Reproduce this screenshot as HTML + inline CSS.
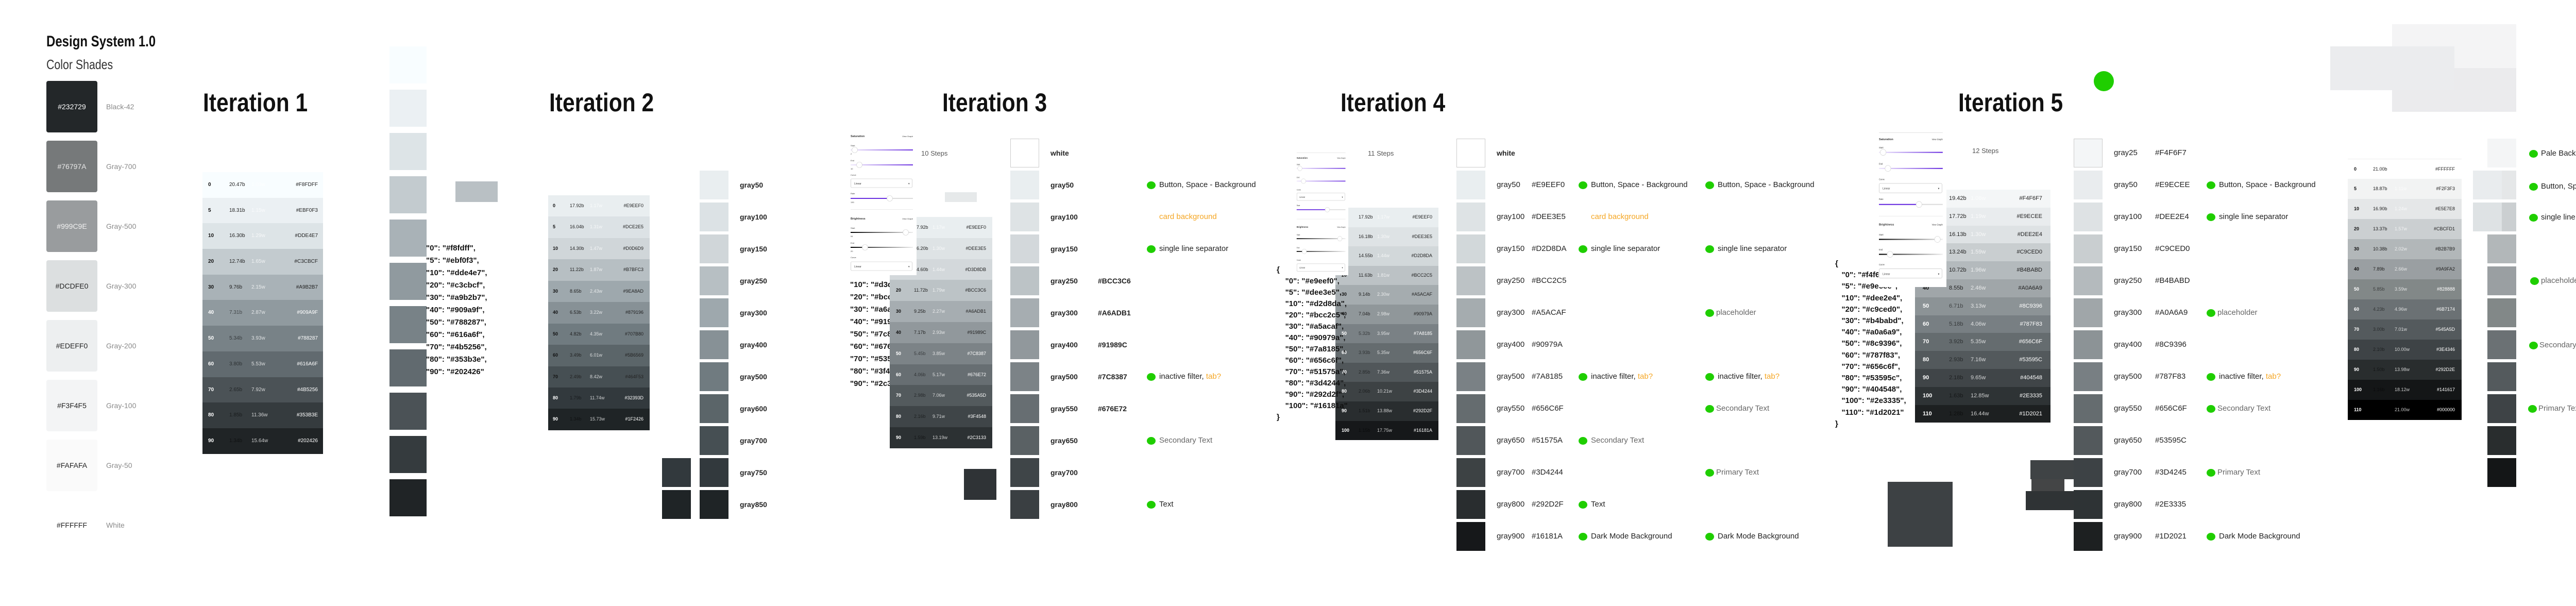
<!DOCTYPE html>
<html><head><meta charset="utf-8">
<style>
*{margin:0;padding:0;box-sizing:border-box}
body{width:5224px;height:1176px;background:#fff;position:relative;overflow:hidden;font-family:"Liberation Sans",Arial,sans-serif;color:#222}
.a{position:absolute}
.L{position:absolute;line-height:20px;white-space:nowrap;font-size:15px}
.ttl{position:absolute;top:174px;font-size:50px;line-height:50px;font-weight:bold;transform:scaleX(.85);transform-origin:0 0;white-space:nowrap;color:#111}
.sw{position:absolute;width:99px;height:100px;border-radius:4px;font-size:14px;line-height:100px;text-align:center}
.nm{position:absolute;left:206px;font-size:14px;color:#8a8a8a;line-height:20px}
.tb{position:absolute;font-size:10px}
.tb div{position:relative}
.tb i,.tb b,.tb u,.tb s{position:absolute;top:0;font-style:normal;text-decoration:none;white-space:nowrap}
.tb i{font-weight:bold;color:#111}
.tb b{font-weight:normal;color:#222}
.tb u{color:rgba(255,255,255,.75)}
.tb s{color:#222}
.tb .d i,.tb .d s{color:#fff}
.tb .d b{color:rgba(0,0,0,.55)}
#t1{left:393px;top:334px;width:234px}
#t1 div{height:49.7px;line-height:49.7px}
#t1 i{left:11px}#t1 b{left:52px}#t1 u{left:95px}#t1 s{right:10px}
#t2{left:1064px;top:379px;width:197px;font-size:9px}
#t2 div{height:41.45px;line-height:41.45px}
#t2 i{left:9px}#t2 b{left:42px}#t2 u{left:81px}#t2 s{right:12px}
#t3{left:1727px;top:421px;width:199px;font-size:9px}
#t3 div{height:40.8px;line-height:40.8px}
#t3 i{left:12px}#t3 b{left:47px}#t3 u{left:83px}#t3 s{right:12px}
#t4{left:2592px;top:403px;width:200px;font-size:9px}
#t4 div{height:37.6px;line-height:37.6px}
#t4 i{left:12px}#t4 b{left:45px}#t4 u{left:81px}#t4 s{right:12px}
#t5{left:3717px;top:368px;width:263px;font-size:11px}
#t5 div{height:34.8px;line-height:34.8px}
#t5 i{left:15px}#t5 b{left:66px}#t5 u{left:108px}#t5 s{right:16px}
#t6{left:4557px;top:308px;width:221px;font-size:9px}
#t6 div{height:39px;line-height:39px}
#t6 i{left:12px}#t6 b{left:49px}#t6 u{left:91px}#t6 s{right:13px}
.js{position:absolute;font-size:15px;font-weight:bold;white-space:pre;color:#111}
.c56{position:absolute;width:56px;height:56px}
.g{display:inline-block;width:17px;height:15px;border-radius:50%;background:#1fce00;vertical-align:-2px}
.dot{position:absolute;width:17px;height:15px;border-radius:50%;background:#1fce00}
.gr{color:#666}
.or{color:#f5a623}
.lb{font-weight:bold;font-size:14px}
.st{position:absolute;font-size:13px;color:#555;line-height:20px}
</style></head><body>

<!-- Design System -->
<div class="a" style="left:90px;top:66px;font-size:30px;font-weight:bold;line-height:30px;transform:scaleX(.8);transform-origin:0 0;white-space:nowrap;color:#111">Design System 1.0</div>
<div class="a" style="left:90px;top:111px;font-size:26px;line-height:28px;transform:scaleX(.82);transform-origin:0 0;white-space:nowrap;color:#333">Color Shades</div>
<div class="sw" style="left:90px;top:157px;background:#232729;color:#fff">#232729</div><div class="nm" style="top:197px">Black-42</div>
<div class="sw" style="left:90px;top:273px;background:#76797A;color:#e8e8e8">#76797A</div><div class="nm" style="top:313px">Gray-700</div>
<div class="sw" style="left:90px;top:389px;background:#999C9E;color:#f2f2f2">#999C9E</div><div class="nm" style="top:429px">Gray-500</div>
<div class="sw" style="left:90px;top:505px;background:#DCDFE0;color:#222">#DCDFE0</div><div class="nm" style="top:545px">Gray-300</div>
<div class="sw" style="left:90px;top:621px;background:#EDEFF0;color:#222">#EDEFF0</div><div class="nm" style="top:661px">Gray-200</div>
<div class="sw" style="left:90px;top:737px;background:#F3F4F5;color:#222">#F3F4F5</div><div class="nm" style="top:777px">Gray-100</div>
<div class="sw" style="left:90px;top:853px;background:#FAFAFA;color:#222">#FAFAFA</div><div class="nm" style="top:893px">Gray-50</div>
<div class="sw" style="left:90px;top:969px;background:#FFFFFF;color:#222">#FFFFFF</div><div class="nm" style="top:1009px">White</div>

<!-- Iteration 1 -->
<div class="ttl" style="left:394px">Iteration 1</div>
<div class="tb" id="t1">
<div style="background:#F8FDFF"><i>0</i><b>20.47b</b><u>1.03w</u><s>#F8FDFF</s></div>
<div style="background:#EBF0F3"><i>5</i><b>18.31b</b><u>1.15w</u><s>#EBF0F3</s></div>
<div style="background:#DDE4E7"><i>10</i><b>16.30b</b><u>1.29w</u><s>#DDE4E7</s></div>
<div style="background:#C3CBCF"><i>20</i><b>12.74b</b><u>1.65w</u><s>#C3CBCF</s></div>
<div style="background:#A9B2B7"><i>30</i><b>9.76b</b><u>2.15w</u><s>#A9B2B7</s></div>
<div style="background:#909A9F" class="d"><i>40</i><b>7.31b</b><u>2.87w</u><s>#909A9F</s></div>
<div style="background:#788287" class="d"><i>50</i><b>5.34b</b><u>3.93w</u><s>#788287</s></div>
<div style="background:#616A6F" class="d"><i>60</i><b>3.80b</b><u>5.53w</u><s>#616A6F</s></div>
<div style="background:#4B5256" class="d"><i>70</i><b>2.65b</b><u>7.92w</u><s>#4B5256</s></div>
<div style="background:#353B3E" class="d"><i>80</i><b>1.85b</b><u>11.36w</u><s>#353B3E</s></div>
<div style="background:#202426" class="d"><i>90</i><b>1.34b</b><u>15.64w</u><s>#202426</s></div>
</div>
<div class="js" style="left:827px;top:470px;line-height:24px">"0": "#f8fdff",
"5": "#ebf0f3",
"10": "#dde4e7",
"20": "#c3cbcf",
"30": "#a9b2b7",
"40": "#909a9f",
"50": "#788287",
"60": "#616a6f",
"70": "#4b5256",
"80": "#353b3e",
"90": "#202426"</div>
<div class="a" style="left:756px;top:90px;width:72px;height:72px;background:#F8FDFF"></div>
<div class="a" style="left:756px;top:174px;width:72px;height:72px;background:#EBF0F3"></div>
<div class="a" style="left:756px;top:258px;width:72px;height:72px;background:#DDE4E7"></div>
<div class="a" style="left:756px;top:342px;width:72px;height:72px;background:#C3CBCF"></div>
<div class="a" style="left:756px;top:426px;width:72px;height:72px;background:#A9B2B7"></div>
<div class="a" style="left:756px;top:510px;width:72px;height:72px;background:#909A9F"></div>
<div class="a" style="left:756px;top:594px;width:72px;height:72px;background:#788287"></div>
<div class="a" style="left:756px;top:678px;width:72px;height:72px;background:#616A6F"></div>
<div class="a" style="left:756px;top:762px;width:72px;height:72px;background:#4B5256"></div>
<div class="a" style="left:756px;top:846px;width:72px;height:72px;background:#353B3E"></div>
<div class="a" style="left:756px;top:930px;width:72px;height:72px;background:#202426"></div>
<div class="a" style="left:884px;top:352px;width:82px;height:40px;background:#B9C0C4"></div>

<!-- Iteration 2 -->
<div class="ttl" style="left:1066px">Iteration 2</div>
<div class="tb" id="t2">
<div style="background:#E9EEF0"><i>0</i><b>17.92b</b><u>1.17w</u><s>#E9EEF0</s></div>
<div style="background:#DCE2E5"><i>5</i><b>16.04b</b><u>1.31w</u><s>#DCE2E5</s></div>
<div style="background:#D0D6D9"><i>10</i><b>14.30b</b><u>1.47w</u><s>#D0D6D9</s></div>
<div style="background:#B7BFC3"><i>20</i><b>11.22b</b><u>1.87w</u><s>#B7BFC3</s></div>
<div style="background:#9EA8AD"><i>30</i><b>8.65b</b><u>2.43w</u><s>#9EA8AD</s></div>
<div style="background:#879196"><i>40</i><b>6.53b</b><u>3.22w</u><s>#879196</s></div>
<div style="background:#707B80"><i>50</i><b>4.82b</b><u>4.35w</u><s>#707B80</s></div>
<div style="background:#5B6569"><i>60</i><b>3.49b</b><u>6.01w</u><s>#5B6569</s></div>
<div style="background:#464F53"><i>70</i><b>2.49b</b><u>8.42w</u><s>#464F53</s></div>
<div style="background:#32393D" class="d"><i>80</i><b>1.79b</b><u>11.74w</u><s>#32393D</s></div>
<div style="background:#1F2426" class="d"><i>90</i><b>1.34b</b><u>15.73w</u><s>#1F2426</s></div>
</div>
<div class="c56" style="left:1358px;top:331px;background:#E9EEF0"></div><div class="L lb" style="left:1436px;top:349px">gray50</div>
<div class="c56" style="left:1358px;top:393px;background:#DCE2E5"></div><div class="L lb" style="left:1436px;top:411px">gray100</div>
<div class="c56" style="left:1358px;top:455px;background:#D0D6D9"></div><div class="L lb" style="left:1436px;top:473px">gray150</div>
<div class="c56" style="left:1358px;top:517px;background:#B7BFC3"></div><div class="L lb" style="left:1436px;top:535px">gray250</div>
<div class="c56" style="left:1358px;top:579px;background:#9EA8AD"></div><div class="L lb" style="left:1436px;top:597px">gray300</div>
<div class="c56" style="left:1358px;top:641px;background:#879196"></div><div class="L lb" style="left:1436px;top:659px">gray400</div>
<div class="c56" style="left:1358px;top:703px;background:#707B80"></div><div class="L lb" style="left:1436px;top:721px">gray500</div>
<div class="c56" style="left:1358px;top:765px;background:#5B6569"></div><div class="L lb" style="left:1436px;top:783px">gray600</div>
<div class="c56" style="left:1358px;top:827px;background:#464F53"></div><div class="L lb" style="left:1436px;top:845px">gray700</div>
<div class="c56" style="left:1358px;top:889px;background:#32393D"></div><div class="L lb" style="left:1436px;top:907px">gray750</div>
<div class="c56" style="left:1358px;top:951px;background:#1F2426"></div><div class="L lb" style="left:1436px;top:969px">gray850</div>
<div class="c56" style="left:1285px;top:889px;background:#32393D"></div>
<div class="c56" style="left:1285px;top:951px;background:#1F2426"></div>

<!-- Iteration 3 -->
<div class="ttl" style="left:1829px">Iteration 3</div>
<div class="js" style="left:1650px;top:493px;line-height:24px">"0": "#e9eef0",
"5": "#dee3e5",
"10": "#d3d8db",
"20": "#bcc3c6",
"30": "#a6adb1",
"40": "#91989c",
"50": "#7c8387",
"60": "#676e72",
"70": "#535a5d",
"80": "#3f4548",
"90": "#2c3133"</div>
<div class="tb" id="t3">
<div style="background:#E9EEF0"><i>0</i><b>17.92b</b><u>1.17w</u><s>#E9EEF0</s></div>
<div style="background:#DEE3E5"><i>5</i><b>16.20b</b><u>1.30w</u><s>#DEE3E5</s></div>
<div style="background:#D3D8DB"><i>10</i><b>14.60b</b><u>1.44w</u><s>#D3D8DB</s></div>
<div style="background:#BCC3C6"><i>20</i><b>11.72b</b><u>1.79w</u><s>#BCC3C6</s></div>
<div style="background:#A6ADB1"><i>30</i><b>9.25b</b><u>2.27w</u><s>#A6ADB1</s></div>
<div style="background:#91989C"><i>40</i><b>7.17b</b><u>2.93w</u><s>#91989C</s></div>
<div style="background:#7C8387" class="d"><i>50</i><b>5.45b</b><u>3.85w</u><s>#7C8387</s></div>
<div style="background:#676E72" class="d"><i>60</i><b>4.06b</b><u>5.17w</u><s>#676E72</s></div>
<div style="background:#535A5D" class="d"><i>70</i><b>2.98b</b><u>7.06w</u><s>#535A5D</s></div>
<div style="background:#3F4548" class="d"><i>80</i><b>2.16b</b><u>9.71w</u><s>#3F4548</s></div>
<div style="background:#2C3133" class="d"><i>90</i><b>1.59b</b><u>13.19w</u><s>#2C3133</s></div>
</div>
<div class="a" style="left:1987px;top:423px;font-size:13px;font-weight:bold;color:#e01010;line-height:16px">it3</div>
<svg class="a" style="left:1650px;top:255px" width="129" height="279" viewBox="0 0 129 279" preserveAspectRatio="none">
<defs><linearGradient id="pu" x1="0" x2="1"><stop offset="0" stop-color="#efe8fb"/><stop offset="1" stop-color="#6a2fe0"/></linearGradient>
<linearGradient id="bk" x1="0" x2="1"><stop offset="0" stop-color="#000"/><stop offset="1" stop-color="#eee"/></linearGradient></defs>
<rect width="129" height="279" fill="#fff"/>
<g font-family="Liberation Sans,sans-serif" fill="#333">
<text x="1" y="11" font-size="5.5" font-weight="bold">Saturation</text><text x="122" y="11" font-size="4" text-anchor="end">View Graph</text>
<text x="1" y="29" font-size="4">Start</text><rect x="1" y="35" width="121" height="2" fill="url(#pu)"/><circle cx="9" cy="36" r="5.5" fill="#fff" stroke="#ccc" stroke-width=".6"/><text x="1" y="45" font-size="4">2</text>
<text x="1" y="58" font-size="4">End</text><rect x="1" y="64" width="121" height="2" fill="url(#pu)"/><circle cx="18" cy="65" r="5.5" fill="#fff" stroke="#ccc" stroke-width=".6"/><text x="1" y="74" font-size="4">10</text>
<text x="1" y="86" font-size="4">Curve</text><rect x="1.5" y="92" width="119" height="17" rx="2" fill="#fff" stroke="#bbb" stroke-width=".6"/><text x="8" y="103" font-size="5">Linear</text><text x="113" y="103" font-size="5">▾</text>
<text x="1" y="122" font-size="4">Rate</text><rect x="1" y="129" width="76" height="2" fill="#6a2fe0"/><rect x="77" y="129" width="45" height="2" fill="#ddd"/><circle cx="77" cy="130" r="5.5" fill="#fff" stroke="#ccc" stroke-width=".6"/><text x="1" y="139" font-size="4">130</text>
<rect x="1" y="151" width="121" height=".6" fill="#ddd"/>
<text x="1" y="171" font-size="5.5" font-weight="bold">Brightness</text><text x="122" y="171" font-size="4" text-anchor="end">View Graph</text>
<text x="1" y="189" font-size="4">Start</text><rect x="1" y="195" width="121" height="2" fill="url(#bk)"/><circle cx="108" cy="196" r="5.5" fill="#fff" stroke="#ccc" stroke-width=".6"/><text x="1" y="205" font-size="4">94</text>
<text x="1" y="218" font-size="4">End</text><rect x="1" y="224" width="121" height="2" fill="url(#bk)"/><circle cx="29" cy="225" r="5.5" fill="#fff" stroke="#ccc" stroke-width=".6"/><text x="1" y="234" font-size="4">20</text>
<text x="1" y="246" font-size="4">Curve</text><rect x="1.5" y="253" width="119" height="17" rx="2" fill="#fff" stroke="#bbb" stroke-width=".6"/><text x="8" y="264" font-size="5">Linear</text><text x="113" y="264" font-size="5">▾</text>
</g></svg>
<div class="st" style="left:1788px;top:288px">10 Steps</div>
<div class="a" style="left:1834px;top:373px;width:62px;height:19px;background:#E6E9EA"></div>
<div class="a" style="left:1871px;top:910px;width:63px;height:60px;background:#2F3336"></div>

<div class="c56" style="left:1961px;top:269px;background:#fff;border:1px solid #ccc"></div><div class="L lb" style="left:2039px;top:287px">white</div>
<div class="c56" style="left:1961px;top:331px;background:#E9EEF0"></div><div class="L lb" style="left:2039px;top:349px">gray50</div>
<div class="c56" style="left:1961px;top:393px;background:#DEE3E5"></div><div class="L lb" style="left:2039px;top:411px">gray100</div>
<div class="c56" style="left:1961px;top:455px;background:#D3D8DB"></div><div class="L lb" style="left:2039px;top:473px">gray150</div>
<div class="c56" style="left:1961px;top:517px;background:#BCC3C6"></div><div class="L lb" style="left:2039px;top:535px">gray250</div>
<div class="c56" style="left:1961px;top:579px;background:#A6ADB1"></div><div class="L lb" style="left:2039px;top:597px">gray300</div>
<div class="c56" style="left:1961px;top:641px;background:#91989C"></div><div class="L lb" style="left:2039px;top:659px">gray400</div>
<div class="c56" style="left:1961px;top:703px;background:#7C8387"></div><div class="L lb" style="left:2039px;top:721px">gray500</div>
<div class="c56" style="left:1961px;top:765px;background:#676E72"></div><div class="L lb" style="left:2039px;top:783px">gray550</div>
<div class="c56" style="left:1961px;top:827px;background:#5A6164"></div><div class="L lb" style="left:2039px;top:845px">gray650</div>
<div class="c56" style="left:1961px;top:889px;background:#3F4548"></div><div class="L lb" style="left:2039px;top:907px">gray700</div>
<div class="c56" style="left:1961px;top:951px;background:#3A3F42"></div><div class="L lb" style="left:2039px;top:969px">gray800</div>
<div class="L lb" style="left:2131px;top:535px">#BCC3C6</div>
<div class="L lb" style="left:2131px;top:597px">#A6ADB1</div>
<div class="L lb" style="left:2131px;top:659px">#91989C</div>
<div class="L lb" style="left:2131px;top:721px">#7C8387</div>
<div class="L lb" style="left:2131px;top:783px">#676E72</div>
<div class="dot" style="left:2226px;top:352px"></div><div class="L" style="left:2250px;top:349px">Button, Space - Background</div>
<div class="L or" style="left:2250px;top:411px">card background</div>
<div class="dot" style="left:2226px;top:476px"></div><div class="L" style="left:2250px;top:473px">single line separator</div>
<div class="dot" style="left:2226px;top:724px"></div><div class="L" style="left:2250px;top:721px">inactive filter, <span class="or">tab?</span></div>
<div class="dot" style="left:2226px;top:848px"></div><div class="L gr" style="left:2250px;top:845px">Secondary Text</div>
<div class="dot" style="left:2226px;top:972px"></div><div class="L" style="left:2250px;top:969px">Text</div>

<!-- Iteration 4 -->
<div class="ttl" style="left:2602px">Iteration 4</div>
<div class="tb" id="t4">
<div style="background:#E9EEF0"><i>0</i><b>17.92b</b><u>1.17w</u><s>#E9EEF0</s></div>
<div style="background:#DEE3E5"><i>5</i><b>16.18b</b><u>1.30w</u><s>#DEE3E5</s></div>
<div style="background:#D2D8DA"><i>10</i><b>14.55b</b><u>1.44w</u><s>#D2D8DA</s></div>
<div style="background:#BCC2C5"><i>20</i><b>11.63b</b><u>1.81w</u><s>#BCC2C5</s></div>
<div style="background:#A5ACAF"><i>30</i><b>9.14b</b><u>2.30w</u><s>#A5ACAF</s></div>
<div style="background:#90979A"><i>40</i><b>7.04b</b><u>2.98w</u><s>#90979A</s></div>
<div style="background:#7A8185" class="d"><i>50</i><b>5.32b</b><u>3.95w</u><s>#7A8185</s></div>
<div style="background:#656C6F" class="d"><i>60</i><b>3.93b</b><u>5.35w</u><s>#656C6F</s></div>
<div style="background:#51575A" class="d"><i>70</i><b>2.85b</b><u>7.36w</u><s>#51575A</s></div>
<div style="background:#3D4244" class="d"><i>80</i><b>2.06b</b><u>10.21w</u><s>#3D4244</s></div>
<div style="background:#292D2F" class="d"><i>90</i><b>1.51b</b><u>13.88w</u><s>#292D2F</s></div>
<div style="background:#16181A" class="d"><i>100</i><b>1.15b</b><u>17.75w</u><s>#16181A</s></div>
</div>
<div class="js" style="left:2478px;top:513px;line-height:22px">{
    "0": "#e9eef0",
    "5": "#dee3e5",
    "10": "#d2d8da",
    "20": "#bcc2c5",
    "30": "#a5acaf",
    "40": "#90979a",
    "50": "#7a8185",
    "60": "#656c6f",
    "70": "#51575a",
    "80": "#3d4244",
    "90": "#292d2f",
    "100": "#16181a"
}</div>
<svg class="a" style="left:2516px;top:296px" width="101" height="238" viewBox="0 0 129 279" preserveAspectRatio="none">
<rect width="129" height="279" fill="#fff"/><rect x="1" y="0" width="121" height=".8" fill="#ddd"/>
<g font-family="Liberation Sans,sans-serif" fill="#333">
<text x="1" y="14" font-size="5.5" font-weight="bold">Saturation</text><text x="122" y="14" font-size="4" text-anchor="end">View Graph</text>
<text x="1" y="29" font-size="4">Start</text><rect x="1" y="35" width="121" height="2" fill="url(#pu)"/><circle cx="9" cy="36" r="5.5" fill="#fff" stroke="#ccc" stroke-width=".6"/>
<text x="1" y="58" font-size="4">End</text><rect x="1" y="64" width="121" height="2" fill="url(#pu)"/><circle cx="18" cy="65" r="5.5" fill="#fff" stroke="#ccc" stroke-width=".6"/>
<text x="1" y="86" font-size="4">Curve</text><rect x="1.5" y="92" width="119" height="17" rx="2" fill="#fff" stroke="#bbb" stroke-width=".6"/><text x="8" y="103" font-size="5">Linear</text><text x="113" y="103" font-size="5">▾</text>
<text x="1" y="122" font-size="4">Rate</text><rect x="1" y="129" width="76" height="2" fill="#6a2fe0"/><rect x="77" y="129" width="45" height="2" fill="#ddd"/><circle cx="77" cy="130" r="5.5" fill="#fff" stroke="#ccc" stroke-width=".6"/>
<rect x="1" y="151" width="121" height=".6" fill="#ddd"/>
<text x="1" y="171" font-size="5.5" font-weight="bold">Brightness</text><text x="122" y="171" font-size="4" text-anchor="end">View Graph</text>
<text x="1" y="189" font-size="4">Start</text><rect x="1" y="195" width="121" height="2" fill="url(#bk)"/><circle cx="108" cy="196" r="5.5" fill="#fff" stroke="#ccc" stroke-width=".6"/>
<text x="1" y="218" font-size="4">End</text><rect x="1" y="224" width="121" height="2" fill="url(#bk)"/><circle cx="20" cy="225" r="5.5" fill="#fff" stroke="#ccc" stroke-width=".6"/>
<text x="1" y="246" font-size="4">Curve</text><rect x="1.5" y="253" width="119" height="17" rx="2" fill="#fff" stroke="#bbb" stroke-width=".6"/><text x="8" y="264" font-size="5">Linear</text><text x="113" y="264" font-size="5">▾</text>
</g></svg>
<div class="st" style="left:2655px;top:288px">11 Steps</div>

<div class="c56" style="left:2827px;top:269px;background:#fff;border:1px solid #ccc"></div><div class="L lb" style="left:2905px;top:287px">white</div>
<div class="c56" style="left:2827px;top:331px;background:#E9EEF0"></div><div class="L" style="left:2905px;top:349px">gray50</div><div class="L" style="left:2973px;top:349px">#E9EEF0</div>
<div class="c56" style="left:2827px;top:393px;background:#DEE3E5"></div><div class="L" style="left:2905px;top:411px">gray100</div><div class="L" style="left:2973px;top:411px">#DEE3E5</div>
<div class="c56" style="left:2827px;top:455px;background:#D2D8DA"></div><div class="L" style="left:2905px;top:473px">gray150</div><div class="L" style="left:2973px;top:473px">#D2D8DA</div>
<div class="c56" style="left:2827px;top:517px;background:#BCC2C5"></div><div class="L" style="left:2905px;top:535px">gray250</div><div class="L" style="left:2973px;top:535px">#BCC2C5</div>
<div class="c56" style="left:2827px;top:579px;background:#A5ACAF"></div><div class="L" style="left:2905px;top:597px">gray300</div><div class="L" style="left:2973px;top:597px">#A5ACAF</div>
<div class="c56" style="left:2827px;top:641px;background:#90979A"></div><div class="L" style="left:2905px;top:659px">gray400</div><div class="L" style="left:2973px;top:659px">#90979A</div>
<div class="c56" style="left:2827px;top:703px;background:#7A8185"></div><div class="L" style="left:2905px;top:721px">gray500</div><div class="L" style="left:2973px;top:721px">#7A8185</div>
<div class="c56" style="left:2827px;top:765px;background:#656C6F"></div><div class="L" style="left:2905px;top:783px">gray550</div><div class="L" style="left:2973px;top:783px">#656C6F</div>
<div class="c56" style="left:2827px;top:827px;background:#51575A"></div><div class="L" style="left:2905px;top:845px">gray650</div><div class="L" style="left:2973px;top:845px">#51575A</div>
<div class="c56" style="left:2827px;top:889px;background:#3D4244"></div><div class="L" style="left:2905px;top:907px">gray700</div><div class="L" style="left:2973px;top:907px">#3D4244</div>
<div class="c56" style="left:2827px;top:951px;background:#292D2F"></div><div class="L" style="left:2905px;top:969px">gray800</div><div class="L" style="left:2973px;top:969px">#292D2F</div>
<div class="c56" style="left:2827px;top:1013px;background:#16181A"></div><div class="L" style="left:2905px;top:1031px">gray900</div><div class="L" style="left:2973px;top:1031px">#16181A</div>
<div class="dot" style="left:3064px;top:352px"></div><div class="L" style="left:3088px;top:349px">Button, Space - Background</div>
<div class="dot" style="left:3310px;top:352px"></div><div class="L" style="left:3334px;top:349px">Button, Space - Background</div>
<div class="L or" style="left:3088px;top:411px">card background</div>
<div class="dot" style="left:3064px;top:476px"></div><div class="L" style="left:3088px;top:473px">single line separator</div>
<div class="dot" style="left:3310px;top:476px"></div><div class="L" style="left:3334px;top:473px">single line separator</div>
<div class="dot" style="left:3310px;top:600px"></div><div class="L gr" style="left:3331px;top:597px">placeholder</div>
<div class="dot" style="left:3064px;top:724px"></div><div class="L" style="left:3088px;top:721px">inactive filter, <span class="or">tab?</span></div>
<div class="dot" style="left:3310px;top:724px"></div><div class="L" style="left:3334px;top:721px">inactive filter, <span class="or">tab?</span></div>
<div class="dot" style="left:3310px;top:786px"></div><div class="L gr" style="left:3331px;top:783px">Secondary Text</div>
<div class="dot" style="left:3064px;top:848px"></div><div class="L gr" style="left:3088px;top:845px">Secondary Text</div>
<div class="dot" style="left:3310px;top:910px"></div><div class="L gr" style="left:3331px;top:907px">Primary Text</div>
<div class="dot" style="left:3064px;top:972px"></div><div class="L" style="left:3088px;top:969px">Text</div>
<div class="dot" style="left:3064px;top:1034px"></div><div class="L" style="left:3088px;top:1031px">Dark Mode Background</div>
<div class="dot" style="left:3310px;top:1034px"></div><div class="L" style="left:3334px;top:1031px">Dark Mode Background</div>

<!-- Iteration 5 -->
<div class="a" style="left:4064px;top:138px;width:39px;height:39px;border-radius:50%;background:#1fce00"></div>
<div class="ttl" style="left:3801px">Iteration 5</div>
<div class="tb" id="t5">
<div style="background:#F4F6F7"><i>0</i><b>19.42b</b><u>1.06w</u><s>#F4F6F7</s></div>
<div style="background:#E9ECEE"><i>5</i><b>17.72b</b><u>1.19w</u><s>#E9ECEE</s></div>
<div style="background:#DEE2E4"><i>10</i><b>16.13b</b><u>1.30w</u><s>#DEE2E4</s></div>
<div style="background:#C9CED0"><i>20</i><b>13.24b</b><u>1.59w</u><s>#C9CED0</s></div>
<div style="background:#B4BABD"><i>30</i><b>10.72b</b><u>1.96w</u><s>#B4BABD</s></div>
<div style="background:#A0A6A9"><i>40</i><b>8.55b</b><u>2.46w</u><s>#A0A6A9</s></div>
<div style="background:#8C9396" class="d"><i>50</i><b>6.71b</b><u>3.13w</u><s>#8C9396</s></div>
<div style="background:#787F83" class="d"><i>60</i><b>5.18b</b><u>4.06w</u><s>#787F83</s></div>
<div style="background:#656C6F" class="d"><i>70</i><b>3.92b</b><u>5.35w</u><s>#656C6F</s></div>
<div style="background:#53595C" class="d"><i>80</i><b>2.93b</b><u>7.16w</u><s>#53595C</s></div>
<div style="background:#404548" class="d"><i>90</i><b>2.18b</b><u>9.65w</u><s>#404548</s></div>
<div style="background:#2E3335" class="d"><i>100</i><b>1.63b</b><u>12.85w</u><s>#2E3335</s></div>
<div style="background:#1D2021" class="d"><i>110</i><b>1.28b</b><u>16.44w</u><s>#1D2021</s></div>
</div>
<div class="js" style="left:3562px;top:501px;line-height:22.2px">{
   "0": "#f4f6f7",
   "5": "#e9ecee",
   "10": "#dee2e4",
   "20": "#c9ced0",
   "30": "#b4babd",
   "40": "#a0a6a9",
   "50": "#8c9396",
   "60": "#787f83",
   "70": "#656c6f",
   "80": "#53595c",
   "90": "#404548",
   "100": "#2e3335",
   "110": "#1d2021"
}</div>
<svg class="a" style="left:3646px;top:257px" width="132" height="300" viewBox="0 0 129 279" preserveAspectRatio="none">
<rect width="129" height="279" fill="#fff"/><rect x="1" y="0" width="121" height=".8" fill="#ddd"/>
<g font-family="Liberation Sans,sans-serif" fill="#333">
<text x="1" y="14" font-size="5.5" font-weight="bold">Saturation</text><text x="122" y="14" font-size="4" text-anchor="end">View Graph</text>
<text x="1" y="29" font-size="4">Start</text><rect x="1" y="35" width="121" height="2" fill="url(#pu)"/><circle cx="9" cy="36" r="5.5" fill="#fff" stroke="#ccc" stroke-width=".6"/>
<text x="1" y="58" font-size="4">End</text><rect x="1" y="64" width="121" height="2" fill="url(#pu)"/><circle cx="18" cy="65" r="5.5" fill="#fff" stroke="#ccc" stroke-width=".6"/>
<text x="1" y="86" font-size="4">Curve</text><rect x="1.5" y="92" width="119" height="17" rx="2" fill="#fff" stroke="#bbb" stroke-width=".6"/><text x="8" y="103" font-size="5">Linear</text><text x="113" y="103" font-size="5">▾</text>
<text x="1" y="122" font-size="4">Rate</text><rect x="1" y="129" width="76" height="2" fill="#6a2fe0"/><rect x="77" y="129" width="45" height="2" fill="#ddd"/><circle cx="77" cy="130" r="5.5" fill="#fff" stroke="#ccc" stroke-width=".6"/>
<rect x="1" y="151" width="121" height=".6" fill="#ddd"/>
<text x="1" y="168" font-size="5.5" font-weight="bold">Brightness</text><text x="122" y="168" font-size="4" text-anchor="end">View Graph</text>
<text x="1" y="186" font-size="4">Start</text><rect x="1" y="192" width="121" height="2" fill="url(#bk)"/><circle cx="112" cy="193" r="5.5" fill="#fff" stroke="#ccc" stroke-width=".6"/>
<text x="1" y="213" font-size="4">End</text><rect x="1" y="219" width="121" height="2" fill="url(#bk)"/><circle cx="22" cy="220" r="5.5" fill="#fff" stroke="#ccc" stroke-width=".6"/>
<text x="1" y="240" font-size="4">Curve</text><rect x="1.5" y="246" width="119" height="17" rx="2" fill="#fff" stroke="#bbb" stroke-width=".6"/><text x="8" y="257" font-size="5">Linear</text><text x="113" y="257" font-size="5">▾</text>
</g></svg>
<div class="st" style="left:3828px;top:283px">12 Steps</div>
<div class="a" style="left:3664px;top:935px;width:126px;height:126px;background:#3D4144"></div>
<div class="a" style="left:3941px;top:893px;width:110px;height:37px;background:#3F4345"></div>
<div class="a" style="left:3943px;top:930px;width:64px;height:23px;background:#444546"></div>
<div class="a" style="left:3932px;top:953px;width:119px;height:37px;background:#2F3335"></div>

<div class="c56" style="left:4025px;top:269px;background:#F4F6F7;border:1px solid #ccc"></div><div class="L" style="left:4103px;top:287px">gray25</div><div class="L" style="left:4183px;top:287px">#F4F6F7</div>
<div class="c56" style="left:4025px;top:331px;background:#E9ECEE"></div><div class="L" style="left:4103px;top:349px">gray50</div><div class="L" style="left:4183px;top:349px">#E9ECEE</div>
<div class="c56" style="left:4025px;top:393px;background:#DEE2E4"></div><div class="L" style="left:4103px;top:411px">gray100</div><div class="L" style="left:4183px;top:411px">#DEE2E4</div>
<div class="c56" style="left:4025px;top:455px;background:#C9CED0"></div><div class="L" style="left:4103px;top:473px">gray150</div><div class="L" style="left:4183px;top:473px">#C9CED0</div>
<div class="c56" style="left:4025px;top:517px;background:#B4BABD"></div><div class="L" style="left:4103px;top:535px">gray250</div><div class="L" style="left:4183px;top:535px">#B4BABD</div>
<div class="c56" style="left:4025px;top:579px;background:#A0A6A9"></div><div class="L" style="left:4103px;top:597px">gray300</div><div class="L" style="left:4183px;top:597px">#A0A6A9</div>
<div class="c56" style="left:4025px;top:641px;background:#8C9396"></div><div class="L" style="left:4103px;top:659px">gray400</div><div class="L" style="left:4183px;top:659px">#8C9396</div>
<div class="c56" style="left:4025px;top:703px;background:#787F83"></div><div class="L" style="left:4103px;top:721px">gray500</div><div class="L" style="left:4183px;top:721px">#787F83</div>
<div class="c56" style="left:4025px;top:765px;background:#656C6F"></div><div class="L" style="left:4103px;top:783px">gray550</div><div class="L" style="left:4183px;top:783px">#656C6F</div>
<div class="c56" style="left:4025px;top:827px;background:#53595C"></div><div class="L" style="left:4103px;top:845px">gray650</div><div class="L" style="left:4183px;top:845px">#53595C</div>
<div class="c56" style="left:4025px;top:889px;background:#3D4245"></div><div class="L" style="left:4103px;top:907px">gray700</div><div class="L" style="left:4183px;top:907px">#3D4245</div>
<div class="c56" style="left:4025px;top:951px;background:#2E3335"></div><div class="L" style="left:4103px;top:969px">gray800</div><div class="L" style="left:4183px;top:969px">#2E3335</div>
<div class="c56" style="left:4025px;top:1013px;background:#1D2021"></div><div class="L" style="left:4103px;top:1031px">gray900</div><div class="L" style="left:4183px;top:1031px">#1D2021</div>
<div class="dot" style="left:4283px;top:352px"></div><div class="L" style="left:4307px;top:349px">Button, Space - Background</div>
<div class="dot" style="left:4283px;top:414px"></div><div class="L" style="left:4307px;top:411px">single line separator</div>
<div class="dot" style="left:4283px;top:600px"></div><div class="L gr" style="left:4304px;top:597px">placeholder</div>
<div class="dot" style="left:4283px;top:724px"></div><div class="L" style="left:4307px;top:721px">inactive filter, <span class="or">tab?</span></div>
<div class="dot" style="left:4283px;top:786px"></div><div class="L gr" style="left:4304px;top:783px">Secondary Text</div>
<div class="dot" style="left:4283px;top:910px"></div><div class="L gr" style="left:4304px;top:907px">Primary Text</div>
<div class="dot" style="left:4283px;top:1034px"></div><div class="L" style="left:4307px;top:1031px">Dark Mode Background</div>

<!-- far right -->
<div class="a" style="left:4643px;top:47px;width:241px;height:85px;background:#F4F4F5"></div>
<div class="a" style="left:4643px;top:132px;width:241px;height:85px;background:#EBEBED"></div>
<div class="a" style="left:4523px;top:90px;width:241px;height:85px;background:#EBECEE"></div>
<div class="tb" id="t6">
<div style="background:#FFFFFF;border-top:1px solid #eee"><i>0</i><b>21.00b</b><u></u><s>#FFFFFF</s></div>
<div style="background:#F2F3F3"><i>5</i><b>18.87b</b><u>1.11w</u><s>#F2F3F3</s></div>
<div style="background:#E5E7E8"><i>10</i><b>16.90b</b><u>1.24w</u><s>#E5E7E8</s></div>
<div style="background:#CBCFD1"><i>20</i><b>13.37b</b><u>1.57w</u><s>#CBCFD1</s></div>
<div style="background:#B2B7B9"><i>30</i><b>10.38b</b><u>2.02w</u><s>#B2B7B9</s></div>
<div style="background:#9A9FA2"><i>40</i><b>7.89b</b><u>2.66w</u><s>#9A9FA2</s></div>
<div style="background:#828888" class="d"><i>50</i><b>5.85b</b><u>3.59w</u><s>#828888</s></div>
<div style="background:#6B7174" class="d"><i>60</i><b>4.23b</b><u>4.96w</u><s>#6B7174</s></div>
<div style="background:#545A5D" class="d"><i>70</i><b>3.00b</b><u>7.01w</u><s>#545A5D</s></div>
<div style="background:#3E4346" class="d"><i>80</i><b>2.10b</b><u>10.00w</u><s>#3E4346</s></div>
<div style="background:#292D2E" class="d"><i>90</i><b>1.50b</b><u>13.98w</u><s>#292D2E</s></div>
<div style="background:#141617" class="d"><i>100</i><b>1.16b</b><u>18.12w</u><s>#141617</s></div>
<div style="background:#000000" class="d"><i>110</i><b></b><u>21.00w</u><s>#000000</s></div>
</div>
<div class="c56" style="left:4828px;top:269px;background:#F4F5F6"></div>
<div class="a" style="left:4800px;top:331px;width:56px;height:56px;background:#E9ECEE"></div><div class="c56" style="left:4856px;top:331px;width:28px;background:#E5E7E8"></div>
<div class="a" style="left:4800px;top:393px;width:56px;height:56px;background:#DEE2E4"></div><div class="c56" style="left:4856px;top:393px;width:28px;background:#CBCFD1"></div>
<div class="c56" style="left:4828px;top:455px;background:#B2B7B9"></div>
<div class="c56" style="left:4828px;top:517px;background:#9A9FA2"></div>
<div class="c56" style="left:4828px;top:579px;background:#828888"></div>
<div class="c56" style="left:4828px;top:641px;background:#6B7174"></div>
<div class="c56" style="left:4828px;top:703px;background:#545A5D"></div>
<div class="c56" style="left:4828px;top:765px;background:#3E4346"></div>
<div class="c56" style="left:4828px;top:827px;background:#292D2E"></div>
<div class="c56" style="left:4828px;top:889px;background:#141617"></div>
<div class="dot" style="left:4909px;top:291px"></div><div class="L" style="left:4932px;top:288px">Pale Background</div>
<div class="dot" style="left:4909px;top:355px"></div><div class="L" style="left:4932px;top:352px">Button, Space - Background</div>
<div class="dot" style="left:4909px;top:415px"></div><div class="L" style="left:4932px;top:412px">single line separator</div>
<div class="dot" style="left:4911px;top:538px"></div><div class="L gr" style="left:4932px;top:535px">placeholder</div>
<div class="dot" style="left:4909px;top:663px"></div><div class="L gr" style="left:4929px;top:660px">Secondary Text</div>
<div class="dot" style="left:4907px;top:786px"></div><div class="L gr" style="left:4927px;top:783px">Primary Text</div>
</body></html>
